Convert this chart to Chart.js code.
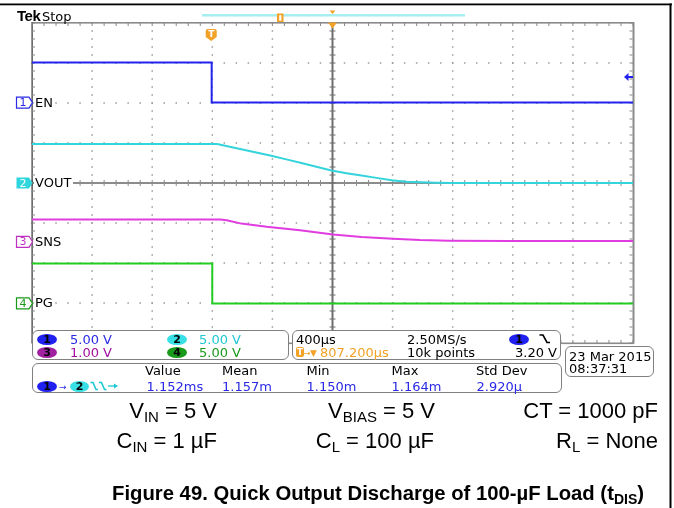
<!DOCTYPE html>
<html><head><meta charset="utf-8">
<script src="https://cdn.jsdelivr.net/npm/chart.js@4/dist/chart.umd.min.js"></script>
<style>
body{margin:0;background:#fff;}
#wrap{position:relative;width:674px;height:508px;overflow:hidden;background:#fff;}
canvas{position:absolute;left:0;top:0;}
.t{position:absolute;white-space:pre;line-height:13px;font-family:"DejaVu Sans",sans-serif;font-size:13px;color:#000;}
.panel{position:absolute;border:1px solid #808080;border-radius:6px;background:#fff;box-sizing:border-box;}
.pill{position:absolute;width:20px;height:11px;border-radius:50%;font:bold 11px/11px "DejaVu Sans",sans-serif;text-align:center;color:#000;}
.cap{position:absolute;white-space:nowrap;font-family:"Liberation Sans",Arial,sans-serif;font-size:22px;line-height:22px;text-align:right;color:#000;}
.cap sub{font-size:15px;vertical-align:-4px;line-height:0;}
.lbl{position:absolute;white-space:nowrap;font:13px/13px "DejaVu Sans",sans-serif;background:#fff;padding-right:2px;color:#000;}
.tagn{position:absolute;width:14px;text-align:center;font:11px/11px "DejaVu Sans",sans-serif;}
</style></head>
<body>
<div id="wrap">
<canvas id="c" width="674" height="508"></canvas>

<div class="t" style="left:17px;top:8px;font:bold 15px/15px 'Liberation Sans',sans-serif;letter-spacing:-0.5px;">Tek</div>
<div class="t" style="left:42px;top:10px;">Stop</div>

<div class="panel" style="left:32px;top:330px;width:257px;height:30px;"></div>
<div class="panel" style="left:292px;top:330px;width:269px;height:30px;"></div>
<div class="panel" style="left:32px;top:363px;width:530px;height:30px;"></div>
<div class="panel" style="left:565px;top:346px;width:89px;height:31px;"></div>

<div class="pill" style="left:37px;top:334px;background:#2020f0;">1</div>
<div class="t" style="left:70px;top:333px;color:#2a2ae6;">5.00 V</div>
<div class="pill" style="left:167px;top:334px;background:#38dfe4;">2</div>
<div class="t" style="left:199px;top:333px;color:#1ec8d2;">5.00 V</div>
<div class="pill" style="left:37px;top:347px;background:#a020a0;">3</div>
<div class="t" style="left:70px;top:346px;color:#a010a0;">1.00 V</div>
<div class="pill" style="left:167px;top:347px;background:#1a9a1a;">4</div>
<div class="t" style="left:199px;top:346px;color:#1a9a1a;">5.00 V</div>

<div class="t" style="left:296px;top:333px;">400µs</div>
<div class="t" style="left:407px;top:333px;">2.50MS/s</div>
<div class="pill" style="left:509px;top:334px;background:#2020f0;">1</div>
<svg style="position:absolute;left:539px;top:334px;" width="12" height="10"><polyline points="0.5,1 4,1 8,8.5 11,8.5" fill="none" stroke="#000" stroke-width="1.6"/></svg>
<div style="position:absolute;left:296px;top:347px;width:8px;height:10px;background:#f2a227;border-radius:2px;color:#fff;font:bold 9px/10px 'DejaVu Sans',sans-serif;text-align:center;">T</div>
<div class="t" style="left:303px;top:347px;font-size:9px;color:#f2a227;">→</div>
<div class="t" style="left:310px;top:347px;font-size:9px;color:#f2a227;">▼</div>
<div class="t" style="left:320px;top:346px;color:#f2a227;">807.200µs</div>
<div class="t" style="left:407px;top:346px;">10k points</div>
<div class="t" style="left:515px;top:346px;">3.20 V</div>

<div class="t" style="left:145px;top:363.5px;">Value</div>
<div class="t" style="left:222px;top:363.5px;">Mean</div>
<div class="t" style="left:306.5px;top:363.5px;">Min</div>
<div class="t" style="left:391.5px;top:363.5px;">Max</div>
<div class="t" style="left:476px;top:363.5px;">Std Dev</div>
<div class="pill" style="left:37px;top:380.5px;background:#2020f0;">1</div>
<div class="t" style="left:59px;top:381px;font-size:9px;color:#2a2ae6;">→</div>
<div class="pill" style="left:70px;top:380.5px;width:19px;background:#38dfe4;">2</div>
<svg style="position:absolute;left:90px;top:381px;" width="29" height="10"><polyline points="0.5,1.5 3,1.5 6,8.5 8,8.5" fill="none" stroke="#1ec8d2" stroke-width="1.6"/><polyline points="9,1.5 11.5,1.5 14.5,8.5 16.5,8.5" fill="none" stroke="#1ec8d2" stroke-width="1.6"/><line x1="18" y1="5" x2="26" y2="5" stroke="#1ec8d2" stroke-width="1.3"/><polygon points="28,5 24,2.5 24,7.5" fill="#1ec8d2"/></svg>
<div class="t" style="left:146.5px;top:379.5px;color:#2a2ae6;">1.152ms</div>
<div class="t" style="left:222px;top:379.5px;color:#2a2ae6;">1.157m</div>
<div class="t" style="left:306.5px;top:379.5px;color:#2a2ae6;">1.150m</div>
<div class="t" style="left:391.5px;top:379.5px;color:#2a2ae6;">1.164m</div>
<div class="t" style="left:476.5px;top:379.5px;color:#2a2ae6;">2.920µ</div>

<div class="t" style="left:569px;top:349.5px;">23 Mar 2015</div>
<div class="t" style="left:569px;top:362px;">08:37:31</div>

<div class="cap" style="right:457px;top:400px;">V<sub>IN</sub> = 5 V</div>
<div class="cap" style="right:239px;top:400px;">V<sub>BIAS</sub> = 5 V</div>
<div class="cap" style="right:16px;top:400px;">CT = 1000 pF</div>
<div class="cap" style="right:457px;top:430px;">C<sub>IN</sub> = 1 µF</div>
<div class="cap" style="right:240px;top:430px;">C<sub>L</sub> = 100 µF</div>
<div class="cap" style="right:16px;top:430px;">R<sub>L</sub> = None</div>
<div class="cap" style="left:112px;top:483px;font-weight:bold;font-size:20.3px;line-height:20px;text-align:left;">Figure 49. Quick Output Discharge of 100-µF Load (t<sub style="font-size:14px;">DIS</sub>)</div>
</div>

<script>
// ---------------- data ----------------
const channelNames   = ['EN', 'VOUT', 'SNS', 'PG'];
const voltsPerDiv    = [5, 5, 1, 5];
const groundDiv      = [2.01, 0, -1.47, -3.01];
const timeDivisions  = [-5, -4, -3, -2, -1, 0, 1, 2, 3, 4, 5];
const voltDivisions  = [-4, -3, -2, -1, 0, 1, 2, 3, 4];
const timePerDivUs   = 400;
const triggerOffsetUs = 807.2;
const triggerLevelV  = 3.2;

const enTimeUs   = [-1192.8, 3, 3, 2807.2];
const enVolts    = [5.0, 5.0, 0.0, 0.0];
const voutTimeUs = [-1192.8, 40, 100, 200, 300, 400, 500, 600, 700, 800, 900, 1000, 1100, 1200, 1300, 1400, 1500, 1600, 1800, 2807.2];
const voutVolts  = [4.88, 4.88, 4.63, 4.22, 3.82, 3.40, 2.95, 2.49, 2.03, 1.57, 1.23, 0.93, 0.64, 0.33, 0.17, 0.09, 0.03, 0.01, 0.0, 0.0];
const snsTimeUs  = [-1192.8, 60, 103, 200, 369, 591, 811, 1000, 1210, 1390, 1590, 2000, 2807.2];
const snsVolts   = [0.56, 0.56, 0.54, 0.455, 0.375, 0.29, 0.185, 0.12, 0.075, 0.043, 0.025, 0.018, 0.018];
const pgTimeUs   = [-1192.8, 7, 7, 2807.2];
const pgVolts    = [5.0, 5.0, 0.0, 0.0];

// ---------------- styles ----------------
const traceColors = ['#2222ee', '#33d4dc', '#e03ce0', '#22cc22'];
const tagColors   = ['#2a2ae6', '#2fd6de', '#c030c0', '#1a9a1a'];
const orange = '#f2a227';

const pts = (t, v) => t.map((x, i) => ({x: x, y: v[i]}));
const tMin = triggerOffsetUs + timeDivisions[0] * timePerDivUs;
const tMax = triggerOffsetUs + timeDivisions[timeDivisions.length - 1] * timePerDivUs;
function yScale(ch) {
  return {type: 'linear', display: false,
    min: (voltDivisions[0] - groundDiv[ch]) * voltsPerDiv[ch],
    max: (voltDivisions[voltDivisions.length - 1] - groundDiv[ch]) * voltsPerDiv[ch]};
}

const graticule = {
  id: 'graticule',
  beforeDatasetsDraw(chart) {
    const {ctx, chartArea: a} = chart;
    const xs = chart.scales.x, ys = chart.scales.y2;
    const vx = timeDivisions.map(d => xs.getPixelForValue(triggerOffsetUs + d * timePerDivUs));
    const hy = voltDivisions.map(d => ys.getPixelForValue(d * voltsPerDiv[1]));
    const mx = (vx[1] - vx[0]) / 5, my = (hy[0] - hy[1]) / 5;
    ctx.save();
    ctx.fillStyle = '#9a9a9a';
    vx.forEach((x, i) => {
      if (i === 0 || i === vx.length - 1 || timeDivisions[i] === 0) return;
      for (let y = a.top; y <= a.bottom + 0.5; y += my) ctx.fillRect(x - 0.75, y - 0.75, 1.5, 1.5);
    });
    hy.forEach((y, i) => {
      if (i === 0 || i === hy.length - 1 || voltDivisions[i] === 0) return;
      for (let x = a.left; x <= a.right + 0.5; x += mx) ctx.fillRect(x - 0.75, y - 0.75, 1.5, 1.5);
    });
    const cx = xs.getPixelForValue(triggerOffsetUs), cy = ys.getPixelForValue(0);
    ctx.fillStyle = '#8c8c8c';
    ctx.fillRect(a.left, cy - 1, a.right - a.left, 2);
    for (let x = a.left; x <= a.right + 0.5; x += mx) ctx.fillRect(x - 0.5, cy - 3, 1, 6);
    ctx.fillStyle = '#6e6e6e';
    ctx.fillRect(cx - 1, a.top, 2, a.bottom - a.top);
    for (let y = a.top; y <= a.bottom + 0.5; y += my) ctx.fillRect(cx - 3, y - 0.5, 6, 1);
    // border
    ctx.fillStyle = '#8a8a8a';
    ctx.fillRect(a.left, a.top - 1, a.right - a.left + 1, 1.6);
    ctx.fillRect(a.left, a.bottom - 0.5, a.right - a.left + 1, 1.6);
    ctx.fillRect(a.right - 0.5, a.top - 1, 2, a.bottom - a.top + 1.5);
    ctx.fillStyle = '#303030';
    ctx.fillRect(a.left - 0.5, a.top - 1, 1.2, a.bottom - a.top + 1.5);
    ctx.fillStyle = '#8a8a8a';
    for (let x = a.left; x <= a.right + 0.5; x += mx) {
      ctx.fillRect(x - 0.5, a.top, 1, 3);
      ctx.fillRect(x - 0.5, a.bottom - 3, 1, 3);
    }
    for (let y = a.top; y <= a.bottom + 0.5; y += my) {
      ctx.fillRect(a.left, y - 0.5, 3, 1);
      ctx.fillRect(a.right - 3.5, y - 0.5, 3, 1);
    }
    ctx.restore();
  },
  afterDraw(chart) {
    const {ctx, chartArea: a} = chart;
    const xs = chart.scales.x;
    const cx = xs.getPixelForValue(triggerOffsetUs);
    const tx = xs.getPixelForValue(0);
    ctx.save();
    // outer frame (top and right)
    ctx.fillStyle = '#000';
    ctx.fillRect(0, 3.5, 672, 1.8);
    ctx.fillRect(669.5, 3.5, 2, 505);
    // record view bar
    ctx.fillStyle = '#a6eef0';
    ctx.fillRect(202, 14, 263, 2.5);
    ctx.fillStyle = orange;
    ctx.fillRect(277, 13.5, 6.5, 8.5);
    ctx.fillStyle = '#fff';
    ctx.fillRect(279.2, 15.2, 2.2, 5.5);
    ctx.fillStyle = orange;
    ctx.beginPath(); ctx.moveTo(cx - 3, 10.5); ctx.lineTo(cx + 3, 10.5); ctx.lineTo(cx, 14); ctx.fill();
    ctx.beginPath(); ctx.moveTo(cx - 4.5, a.top - 0.5); ctx.lineTo(cx + 4.5, a.top - 0.5); ctx.lineTo(cx, a.top + 5.5); ctx.fill();
    // trigger position marker
    ctx.beginPath();
    ctx.moveTo(tx - 5.5, 31); ctx.quadraticCurveTo(tx - 5.5, 29, tx - 3.5, 29);
    ctx.lineTo(tx + 3.5, 29); ctx.quadraticCurveTo(tx + 5.5, 29, tx + 5.5, 31);
    ctx.lineTo(tx + 5.5, 37); ctx.lineTo(tx, 41); ctx.lineTo(tx - 5.5, 37); ctx.closePath(); ctx.fill();
    // trigger level arrow (ch1)
    const ty = chart.scales.y1.getPixelForValue(triggerLevelV);
    ctx.fillStyle = traceColors[0];
    ctx.beginPath(); ctx.moveTo(a.right - 9, ty); ctx.lineTo(a.right - 4.5, ty - 4); ctx.lineTo(a.right - 4.5, ty + 4); ctx.fill();
    ctx.fillRect(a.right - 5, ty - 1, 5, 2);
    // channel ground tags
    ['y1', 'y2', 'y3', 'y4'].forEach((id, i) => {
      const gy = chart.scales[id].getPixelForValue(0);
      ctx.beginPath();
      ctx.moveTo(16.5, gy - 5.5); ctx.lineTo(29, gy - 5.5); ctx.lineTo(32.5, gy);
      ctx.lineTo(29, gy + 5.5); ctx.lineTo(16.5, gy + 5.5); ctx.closePath();
      if (i === 1) { ctx.fillStyle = tagColors[i]; ctx.fill(); }
      else { ctx.fillStyle = '#fff'; ctx.fill(); ctx.strokeStyle = tagColors[i]; ctx.lineWidth = 1.2; ctx.stroke(); }
    });
    ctx.restore();
  }
};

const ds = (label, t, v, i, axis) => ({
  label: label, data: pts(t, v), yAxisID: axis,
  borderColor: traceColors[i], borderWidth: 2, pointRadius: 0, tension: 0, fill: false
});

const chart = new Chart(document.getElementById('c'), {
  type: 'line',
  data: {datasets: [
    ds(channelNames[0], enTimeUs, enVolts, 0, 'y1'),
    ds(channelNames[1], voutTimeUs, voutVolts, 1, 'y2'),
    ds(channelNames[2], snsTimeUs, snsVolts, 2, 'y3'),
    ds(channelNames[3], pgTimeUs, pgVolts, 3, 'y4')
  ]},
  options: {
    responsive: false, animation: false, devicePixelRatio: 1,
    layout: {padding: {left: 32, top: 23, right: 41, bottom: 165}},
    plugins: {legend: {display: false}, tooltip: {enabled: false}},
    elements: {point: {radius: 0}},
    scales: {
      x: {type: 'linear', display: false, min: tMin, max: tMax},
      y1: yScale(0), y2: yScale(1), y3: yScale(2), y4: yScale(3)
    }
  },
  plugins: [graticule]
});

// overlay texts placed via the chart scales
const wrap = document.getElementById('wrap');
['y1', 'y2', 'y3', 'y4'].forEach((id, i) => {
  const gy = chart.scales[id].getPixelForValue(0);
  const n = document.createElement('div');
  n.className = 'tagn';
  n.style.left = '16px'; n.style.top = (gy - 5.5) + 'px';
  n.style.color = i === 1 ? '#fff' : tagColors[i];
  n.textContent = String(i + 1);
  wrap.appendChild(n);
  const l = document.createElement('div');
  l.className = 'lbl';
  l.style.left = '34px'; l.style.top = (gy - 7) + 'px';
  l.style.paddingLeft = '1px';
  l.textContent = channelNames[i];
  wrap.appendChild(l);
});
const tx = chart.scales.x.getPixelForValue(0);
const tm = document.createElement('div');
tm.style.cssText = 'position:absolute;width:11px;text-align:center;color:#fff;font:bold 9px/9px "DejaVu Sans",sans-serif;top:30px;left:' + (tx - 5.5) + 'px;';
tm.textContent = 'T';
wrap.appendChild(tm);
</script>
</body></html>
